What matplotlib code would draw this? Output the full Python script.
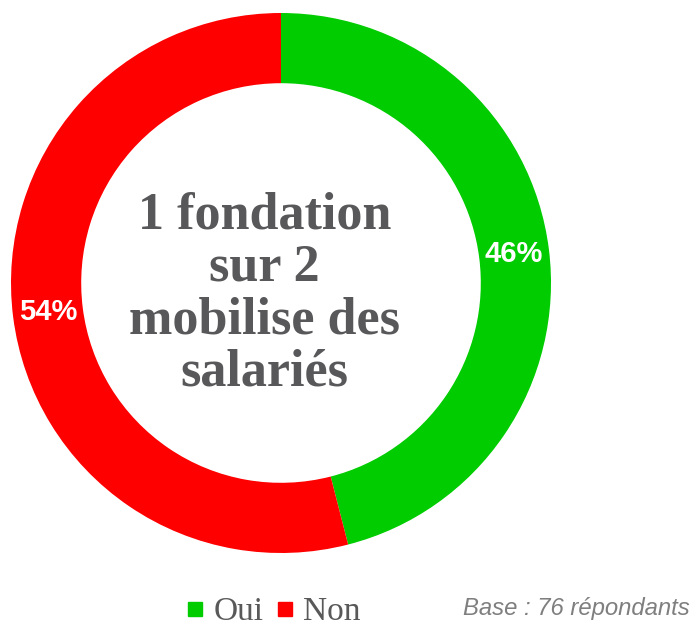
from matplotlib import pyplot as plt
from matplotlib.lines import Line2D

labels = ['Oui', 'Non']
shares = [46, 54]
colors = ['#00cc00', '#ff0000']
center_text = '1 fondation\nsur 2\nmobilise des\nsalariés'
footnote = 'Base : 76 répondants'

W, H = 692, 626
fig = plt.figure(figsize=(W / 100, H / 100), dpi=100)
ax = fig.add_axes([11 / W, 73 / H, 540 / W, 540 / H])

wedges, texts, autotexts = ax.pie(shares, colors=colors, startangle=90, counterclock=False,
                                  radius=1.0, wedgeprops=dict(width=0.26, linewidth=0),
                                  autopct='%d%%', pctdistance=0.87,
                                  textprops=dict(color='white', fontsize=21, fontweight='bold',
                                                 family='Liberation Sans'))
ax.set_xlim(-1, 1)
ax.set_ylim(-1, 1)
ax.set_aspect('equal')
ax.axis('off')

ax.text(-0.06, -0.04, center_text, ha='center', va='center', fontsize=37.5, fontweight='bold',
        family='Liberation Serif', color='#58585a', linespacing=1.12)

handles = [Line2D([], [], marker='s', linestyle='', markersize=10, color=c) for c in colors]
leg = fig.legend(handles, labels, loc='center', bbox_to_anchor=(272 / W, 1 - 612 / H),
                 ncol=2, frameon=False, handlelength=0.7, handletextpad=0.2,
                 columnspacing=0.3, prop=dict(family='Liberation Serif', size=24))
for t in leg.get_texts():
  t.set_color('#595959')

fig.text(690 / W, 1 - 608 / H, footnote, ha='right', va='center', fontsize=17.2,
         style='italic', family='Liberation Sans', color='#7f7f7f')

fig.savefig('out.png', dpi=100)
